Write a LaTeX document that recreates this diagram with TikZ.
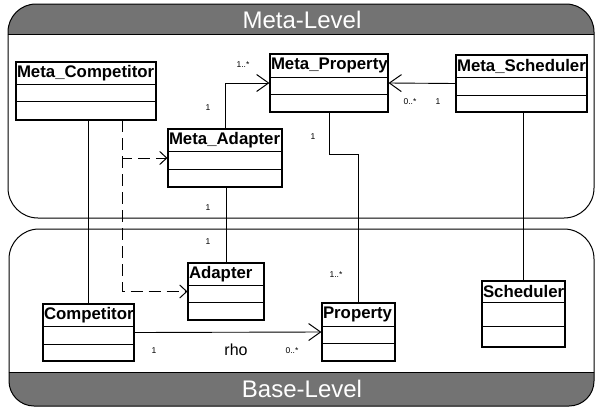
\documentclass[tikz,border=0pt]{standalone}
\usepackage{fontspec}
\setmainfont{Liberation Sans}
\usetikzlibrary{arrows.meta,fit}
\tikzset{
  frame/.style={line width=1pt, draw=black},
  bannerfill/.style={fill=black!55},
  bannertext/.style={text=white, font=\fontsize{24}{24}\selectfont, inner sep=0pt},
  clsbox/.style={draw, line width=1.1pt, inner sep=0pt, fill=white},
  clsline/.style={line width=1pt},
  clstitle/.style={font=\bfseries\fontsize{16.8}{17}\selectfont, inner sep=0.8pt, anchor=west},
  assoc/.style={line width=0.9pt},
  assocarrow/.style={line width=0.9pt, -{Straight Barb[length=12pt,width=17pt,line width=1pt]}},
  dep/.style={line width=1pt, dash pattern=on 12pt off 6pt, -{Straight Barb[length=7pt,width=13pt,line width=1pt,sep=0pt]}},
  mult/.style={font=\fontsize{8.5}{8.5}\selectfont, inner sep=0pt},
  rolelabel/.style={font=\fontsize{16}{16}\selectfont, inner sep=0pt}
}
\newcommand{\umlclass}[8]{%
  \node[clsbox, fit={(#2,-#3) (#4,-#5)}] (#1) {};
  \draw[clsline] (#2,-#6) -- (#4,-#6);
  \draw[clsline] (#2,-#7) -- (#4,-#7);
  \node[clstitle] at (#2,{-(#3+#6)/2}) {#8};
}
\begin{document}
\begin{tikzpicture}[x=1pt,y=1pt]
\useasboundingbox (0,0) rectangle (596,-407);
\fill[white] (0,0) rectangle (596,-407);

% Meta-Level frame
\fill[bannerfill] (8,-34) -- (8,-32) arc[start angle=180,end angle=90,radius=28] -- (566,-4) arc[start angle=90,end angle=0,radius=28] -- (594,-34) -- cycle;
\draw[frame] (8,-34) -- (8,-32) arc[start angle=180,end angle=90,radius=28] -- (566,-4) arc[start angle=90,end angle=0,radius=28] -- (594,-34);
\draw[frame] (8,-34) -- (594,-34);
\draw[frame] (8,-34) -- (8,-188) arc[start angle=180,end angle=270,radius=30] -- (564,-218) arc[start angle=270,end angle=360,radius=30] -- (594,-34);
\node[bannertext] (metalevel) at (302,-20) {Meta-Level};

% Base-Level frame
\fill[bannerfill] (9,-372) -- (9,-381) arc[start angle=180,end angle=270,radius=25] -- (569,-406) arc[start angle=270,end angle=360,radius=25] -- (594,-372) -- cycle;
\draw[frame] (9,-372) -- (9,-381) arc[start angle=180,end angle=270,radius=25] -- (569,-406) arc[start angle=270,end angle=360,radius=25] -- (594,-372);
\draw[frame] (9,-372) -- (594,-372);
\draw[frame] (9,-372) -- (9,-259) arc[start angle=180,end angle=90,radius=30] -- (564,-229) arc[start angle=90,end angle=0,radius=30] -- (594,-372);
\node[bannertext] (baselevel) at (302,-389) {Base-Level};

\coordinate (dsplit) at (122,-120);

% classes
\umlclass{mcomp}{16}{62}{156}{120}{84}{101}{Meta\_Competitor}
\umlclass{mprop}{270}{54}{388}{112}{77}{94}{Meta\_Property}
\umlclass{msched}{456}{55}{587}{112}{77}{95}{Meta\_Scheduler}
\umlclass{madapt}{168}{129}{282}{187}{151}{169}{Meta\_Adapter}
\umlclass{adapt}{188}{263}{264}{320}{285}{302}{Adapter}
\umlclass{comp}{43}{304}{134}{361}{326}{344}{Competitor}
\umlclass{prop}{322}{303}{395}{361}{326}{343}{Property}
\umlclass{sched}{482}{281}{565}{347}{302}{326}{Scheduler}

% connectors
\draw[assocarrow] (madapt.north) |- (mprop.west);
\draw[assocarrow] (msched.west) -- (mprop.east);
\draw[assoc] (mprop.south) -- ++(0,-42) -| (prop.north);
\draw[assoc] (sched.north) -- (sched.north |- msched.south);
\draw[assoc] (adapt.north) -- (adapt.north |- madapt.south);
\draw[assoc] (comp.north) -- (comp.north |- mcomp.south);
\draw[assocarrow] (comp.east) -- (prop.west);
\draw[dep] (dsplit) |- (madapt.west);
\draw[dep] (dsplit) |- (adapt.west);

% multiplicities
\node[mult] (m1) at (243,-65) {1..*};
\node[mult] (m2) at (208,-108) {1};
\node[mult] (m3) at (410,-102) {0..*};
\node[mult] (m4) at (438,-102) {1};
\node[mult] (m5) at (313,-137) {1};
\node[mult] (m6) at (208,-208) {1};
\node[mult] (m7) at (208,-242) {1};
\node[mult] (m8) at (336,-275) {1..*};
\node[mult] (m9) at (154,-351) {1};
\node[rolelabel] (rho) at (236,-350) {rho};
\node[mult] (m10) at (292,-351) {0..*};
\end{tikzpicture}
\end{document}
